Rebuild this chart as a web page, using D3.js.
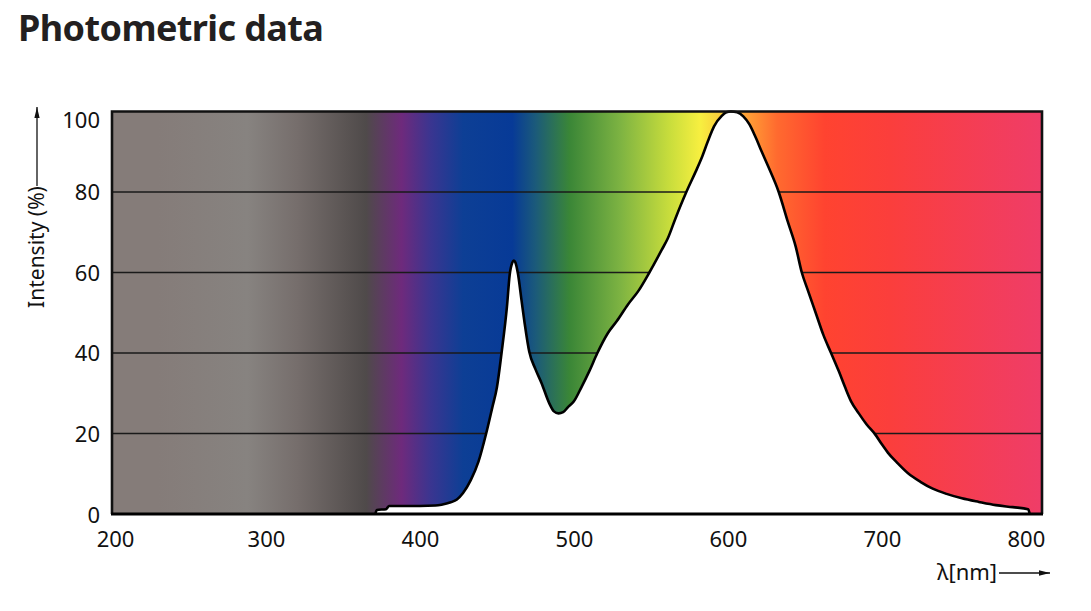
<!DOCTYPE html>
<html>
<head>
<meta charset="utf-8">
<script src="https://cdn.jsdelivr.net/npm/d3@7"></script>
<style>
  body { margin: 0; background: #fff; }
  text { font-family: "Noto Sans", "Open Sans", sans-serif; fill: #111; }
</style>
</head>
<body>
<svg width="1091" height="611"></svg>
<script>
// spectrum
let wavelengths = [371, 372, 378, 380, 390, 400, 410, 414, 420, 424, 428, 433, 438, 443, 447, 450, 453, 456.5, 458.3, 460, 461, 462, 463.6, 466, 468, 471, 475, 479, 484, 487, 490, 493, 496, 500, 505, 510, 515, 522, 528, 535, 542, 549, 557, 561, 566, 573, 579, 583, 587, 591, 596, 599, 602, 606, 610, 614, 618, 622, 626, 633, 639, 644, 648, 652, 657, 662, 667, 672, 676, 680, 685, 690, 696, 700, 704, 710, 717, 725, 733, 742, 752, 763, 774, 785, 795, 796];
let intensity = [0, 1.0, 1.2, 2.0, 2.0, 2.0, 2.1, 2.3, 2.9, 3.6, 5.2, 8.4, 13, 20, 26.5, 31.5, 40, 51.5, 59.5, 62.5, 63, 62.5, 59.8, 53, 47.4, 40.3, 36, 32.5, 27.5, 25.5, 25, 25.3, 26.5, 28, 31.6, 35.5, 39.8, 44.9, 48, 52, 55.5, 60, 65.6, 68.5, 73.5, 80, 85, 88.5, 92.6, 96.3, 98.9, 99.8, 100, 99.8, 98.8, 96.8, 93.6, 90, 86.5, 80, 72.5, 66.5, 60, 55.5, 50, 44.5, 40, 35.5, 31.6, 28, 25, 22.3, 19.6, 17.3, 15.2, 12.7, 10.1, 8, 6.3, 5, 3.9, 3, 2.2, 1.7, 1.2, 0];
let xTicks = [200, 300, 400, 500, 600, 700, 800];
let yTicks = [0, 20, 40, 60, 80, 100];
// background colour stops, by wavelength
let stopNm = [200, 230, 288, 320, 352, 365, 388, 407, 428, 460, 475, 497, 530, 562, 582, 615, 632, 663, 705, 804];
let stopColor = ["#857c79", "#857c79", "#878380", "#766e6c", "#5a5453", "#4f4a4a", "#6e2a7c", "#3a3590", "#0d3f95", "#073a97", "#1b5a7a", "#3a8637", "#7db342", "#c8dd3c", "#f7ef40", "#ff9935", "#ff6a2f", "#ff4330", "#fb3e3c", "#ef3d68"];

const svg = d3.select("svg");
const x = d3.scaleLinear().domain([200, 804]).range([112, 1042]);
const y = d3.scaleLinear().domain([0, 100]).range([514, 111.5]);

svg.append("text")
    .attr("x", 18).attr("y", 41)
    .style("font-size", "36px").style("font-weight", 700)
    .style("letter-spacing", "-0.6px")
    .style("fill", "#231f20")
    .text("Photometric data");

const defs = svg.append("defs");
const grad = defs.append("linearGradient")
    .attr("id", "spec")
    .attr("gradientUnits", "userSpaceOnUse")
    .attr("x1", x(200)).attr("x2", x(804))
    .attr("y1", 0).attr("y2", 0);
grad.selectAll("stop")
    .data(stopNm)
    .join("stop")
    .attr("offset", d => (d - 200) / 604)
    .attr("stop-color", (d, i) => stopColor[i]);

svg.append("rect")
    .attr("x", x(200)).attr("y", y(100))
    .attr("width", x(804) - x(200)).attr("height", y(0) - y(100))
    .attr("fill", "url(#spec)");

// grid lines
svg.append("g")
    .selectAll("line")
    .data(yTicks.filter(d => d > 0 && d < 100))
    .join("line")
    .attr("x1", x(200)).attr("x2", x(804))
    .attr("y1", d => y(d)).attr("y2", d => y(d))
    .attr("stroke", "#1a1a1a").attr("stroke-width", 1.3);

const pts = wavelengths.map((w, i) => [w, intensity[i]]);
svg.append("path")
    .datum(pts)
    .attr("fill", "#fff")
    .attr("d", d3.area().x(d => x(d[0])).y0(y(0)).y1(d => y(d[1])).curve(d3.curveMonotoneX));
svg.append("path")
    .datum(pts)
    .attr("fill", "none")
    .attr("stroke", "#000").attr("stroke-width", 2.6)
    .attr("stroke-linejoin", "round")
    .attr("d", d3.line().x(d => x(d[0])).y(d => y(d[1])).curve(d3.curveMonotoneX));

// frame
svg.append("path")
    .attr("d", `M${x(200)},${y(0)}V${y(100)}H${x(804)}V${y(0)}`)
    .attr("fill", "none").attr("stroke", "#111").attr("stroke-width", 2.6);
svg.append("line")
    .attr("x1", x(200) - 1).attr("x2", x(804) + 1)
    .attr("y1", y(0)).attr("y2", y(0))
    .attr("stroke", "#000").attr("stroke-width", 3.2);

// axes labels
const xAxis = svg.append("g")
    .attr("transform", `translate(0,${y(0)})`)
    .call(d3.axisBottom(x).tickValues(xTicks).tickSize(0).tickPadding(17));
xAxis.select(".domain").remove();
xAxis.selectAll("text")
    .style("font-size", "22px").attr("fill", "#111")
    .attr("dx", d => d === 200 ? 3 : d === 800 ? -10 : 0);

const yAxis = svg.append("g")
    .attr("transform", `translate(${x(200)},0)`)
    .call(d3.axisLeft(y).tickValues(yTicks).tickSize(0).tickPadding(12));
yAxis.select(".domain").remove();
yAxis.selectAll("text")
    .style("font-size", "22px").attr("fill", "#111")
    .attr("dy", d => d === 100 ? "0.72em" : d === 0 ? "0.4em" : "0.36em");

defs.append("marker")
    .attr("id", "arr").attr("viewBox", "0 0 10 10")
    .attr("refX", 10).attr("refY", 5)
    .attr("markerWidth", 11).attr("markerHeight", 11)
    .attr("markerUnits", "userSpaceOnUse")
    .attr("orient", "auto")
    .append("path").attr("d", "M0,2.6L10,5L0,7.4Z").attr("fill", "#111");

svg.append("text")
    .attr("transform", "translate(44,247) rotate(-90)")
    .attr("text-anchor", "middle")
    .style("font-size", "21px")
    .text("Intensity (%)");
svg.append("line")
    .attr("x1", 37).attr("x2", 37).attr("y1", 186).attr("y2", 107)
    .attr("stroke", "#111").attr("stroke-width", 1.3)
    .attr("marker-end", "url(#arr)");

svg.append("text")
    .attr("x", 937).attr("y", 580)
    .style("font-size", "22px")
    .text("λ[nm]");
svg.append("line")
    .attr("x1", 999).attr("x2", 1050).attr("y1", 573).attr("y2", 573)
    .attr("stroke", "#111").attr("stroke-width", 1.3)
    .attr("marker-end", "url(#arr)");
</script>
</body>
</html>
